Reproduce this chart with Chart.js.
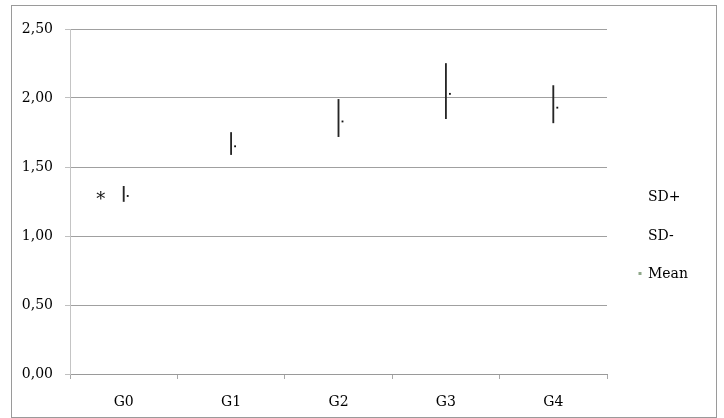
<!DOCTYPE html>
<html><head><meta charset="utf-8">
<style>html,body{margin:0;padding:0;background:#fff;}#wrap{width:724px;height:418px;position:relative;}</style>
<script src="https://cdn.jsdelivr.net/npm/chart.js@4.4.0/dist/chart.umd.min.js"></script>
</head><body><div id="wrap"><canvas id="c" width="724" height="418"></canvas></div>
<script>
const categories = ['G0','G1','G2','G3','G4'];
const sdPlus  = [1.36, 1.75, 1.99, 2.25, 2.09];
const sdMinus = [1.25, 1.59, 1.72, 1.85, 1.82];
const mean    = [1.29, 1.65, 1.83, 2.03, 1.93];
const yTicks  = [0, 0.5, 1, 1.5, 2, 2.5];
const legendLabels = ['SD+', 'SD-', 'Mean'];
const noteText = '*';
const noteIndex = 0;

const FONT = 'DejaVu Serif';

const extras = {
  id: 'extras',
  beforeDraw(chart) {
    const ctx = chart.ctx;
    ctx.save();
    ctx.fillStyle = '#fff';
    ctx.fillRect(0, 0, chart.width, chart.height);
    ctx.strokeStyle = '#9a9a9a';
    ctx.lineWidth = 1;
    ctx.strokeRect(11.5, 5.5, 705, 412);
    ctx.restore();
  },
  beforeDatasetDraw(chart, args) {
    if (args.index === 1) {
      chart.ctx.save();
      chart.ctx.translate(4, 0);
    }
  },
  afterDatasetDraw(chart, args) {
    if (args.index === 1) chart.ctx.restore();
  },
  afterDraw(chart) {
    const ctx = chart.ctx;
    const xs = chart.scales.x, ys = chart.scales.y;
    ctx.save();
    ctx.fillStyle = '#111';
    ctx.font = '18px ' + FONT;
    ctx.textAlign = 'center';
    ctx.textBaseline = 'middle';
    ctx.fillText(noteText, xs.getPixelForValue(noteIndex) - 23, ys.getPixelForValue(mean[noteIndex]) + 4);
    ctx.font = '14px ' + FONT;
    ctx.textAlign = 'left';
    const lx = 648, ly = [197, 236, 274];
    legendLabels.forEach((t, i) => {
      ctx.fillStyle = '#000';
      ctx.fillText(t, lx, ly[i]);
    });
    ctx.fillStyle = '#8fa88a';
    ctx.fillRect(638.5, 272, 3, 3);
    ctx.restore();
  }
};

new Chart(document.getElementById('c'), {
  data: {
    labels: categories,
    datasets: [
      {
        type: 'bar',
        label: 'SD',
        data: categories.map((c, i) => [sdMinus[i], sdPlus[i]]),
        backgroundColor: '#262626',
        borderWidth: 0,
        barThickness: 1.2,
        grouped: false
      },
      {
        type: 'line',
        label: 'Mean',
        data: mean,
        showLine: false,
        pointStyle: 'rect',
        pointRadius: 1.3,
        pointBackgroundColor: '#111',
        pointBorderColor: '#111',
        pointBorderWidth: 0
      }
    ]
  },
  options: {
    responsive: false,
    animation: false,
    layout: { padding: { left: 12, right: 117, top: 29, bottom: 0 } },
    plugins: { legend: { display: false }, tooltip: { enabled: false } },
    scales: {
      x: {
        type: 'category',
        offset: true,
        grid: { display: true, offset: true, drawOnChartArea: false, drawTicks: true, tickLength: 5, color: '#a8a8a8' },
        border: { display: true, color: '#9a9a9a', width: 1 },
        ticks: { font: { family: FONT, size: 14 }, color: '#000', padding: 15, maxRotation: 0 },
        afterFit(s) { s.height = 44; }
      },
      y: {
        min: 0, max: 2.5,
        afterBuildTicks(s) { s.ticks = yTicks.map(v => ({ value: v })); },
        grid: { color: '#a0a0a0', tickColor: '#c0c0c0', tickLength: 5, drawTicks: true },
        border: { display: true, color: '#c4c4c4', width: 1 },
        ticks: {
          font: { family: FONT, size: 14 }, color: '#000', padding: 12,
          callback: v => Number(v).toFixed(2).replace('.', ',')
        },
        afterFit(s) { s.width = 58; }
      }
    }
  },
  plugins: [extras]
});
</script></body></html>
